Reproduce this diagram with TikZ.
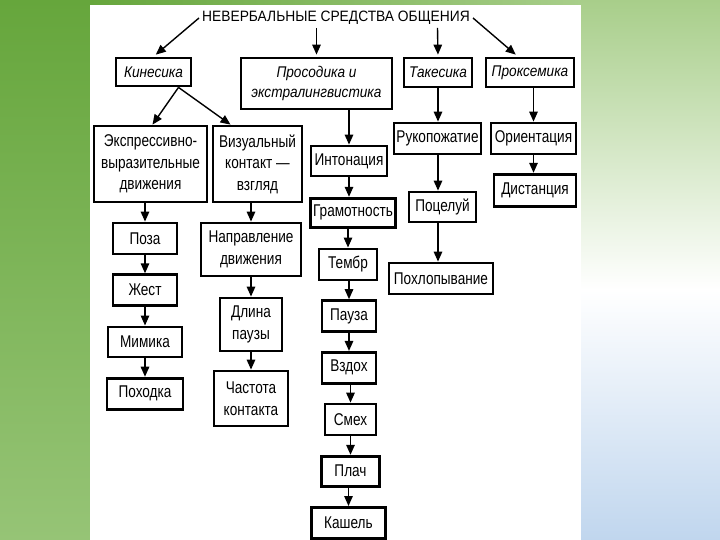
\documentclass[tikz,border=0pt]{standalone}
\usepackage{fontspec}
\setmainfont{Liberation Sans}[FakeStretch=0.8]
\newfontfamily\headfont{Liberation Sans}[FakeStretch=0.88]
\newfontfamily\titlefont{Liberation Sans}[FakeStretch=0.92]
\usetikzlibrary{arrows.meta}

\definecolor{leftTop}{RGB}{102,166,60}
\definecolor{leftBot}{RGB}{150,196,118}
\definecolor{rightTop}{RGB}{168,206,138}
\definecolor{rightBot}{RGB}{192,214,238}

\tikzset{
  box/.style={draw, line width=2.8pt, inner sep=2pt, align=center,
    font=\fontsize{17}{21.5}\selectfont},
  head/.style={box, font=\headfont\fontsize{15.5}{20}\selectfont\itshape},
  arr/.style={-{Triangle[length=10pt, width=8.5pt]}, line width=1.4pt}
}

\begin{document}
\begin{tikzpicture}[x=1pt, y=-1pt, node distance=51.7pt]
  \useasboundingbox (0,0) rectangle (720,540);
  % background
  \shade [top color=leftTop, bottom color=leftBot] (0,0) rectangle (90,540);
  \shade [left color=leftTop, right color=rightTop] (90,0) rectangle (581,5);
  \shade [top color=rightTop, bottom color=white] (581,0) rectangle (720,290);
  \shade [top color=white, bottom color=rightBot] (581,290) rectangle (720,540);
  \fill [white] (90,5) rectangle (581,540);

  \node (title) [inner sep=3pt, font=\titlefont\fontsize{15}{17}\selectfont] at (336,18) {НЕВЕРБАЛЬНЫЕ СРЕДСТВА ОБЩЕНИЯ};

  % first level
  \node (kin) [head, minimum width=75pt, minimum height=28pt] at (153.5,72) {Кинесика};
  \node (pros) [head, minimum width=151pt, minimum height=51pt] at (316.5,83.5) {Просодика и\\экстралингвистика};
  \node (tak) [head, minimum width=68pt, minimum height=29pt] at (438,72.5) {Такесика};
  \node (prox) [head, minimum width=88pt, minimum height=29pt] at (530,72.5) {Проксемика};

  % kinesics
  \node (expr) [box, minimum width=113pt, minimum height=76pt] at (150.5,164) {Экспрессивно-\\выразительные\\движения};
  \node (vis) [box, minimum width=89pt, minimum height=76pt] at (257.5,164) {Визуальный\\контакт ---\\взгляд};
  \node (poza) [box, minimum width=64pt, minimum height=31pt] at (145,238.5) {Поза};
  \node (zhest) [box, minimum width=64pt, minimum height=31pt, below of=poza] {Жест};
  \node (mimika) [box, minimum width=74pt, minimum height=30pt, below of=zhest] {Мимика};
  \node (pohodka) [box, minimum width=76pt, minimum height=31pt, below of=mimika] {Походка};
  \node (napr) [box, minimum width=100pt, minimum height=53pt] at (251,249.5) {Направление\\движения};
  \node (dlina) [box, node distance=75pt, minimum width=62pt, minimum height=53pt, below of=napr] {Длина\\паузы};
  \node (chast) [box, node distance=74pt, minimum width=74pt, minimum height=55pt, below of=dlina] {Частота\\контакта};

  % prosody
  \node (inton) [box, minimum width=76pt, minimum height=30pt] at (349,161) {Интонация};
  \node (gram) [box, minimum width=85pt, minimum height=29pt, below of=inton, xshift=4pt] {Грамотность};
  \node (tembr) [box, minimum width=58pt, minimum height=31pt, below of=gram, xshift=-5pt] {Тембр};
  \node (pauza) [box, minimum width=54pt, minimum height=31pt, below of=tembr, xshift=1pt] {Пауза};
  \node (vzdoh) [box, minimum width=54pt, minimum height=31pt, below of=pauza] {Вздох};
  \node (smeh) [box, minimum width=51pt, minimum height=31pt, below of=vzdoh, xshift=1.5pt] {Смех};
  \node (plach) [box, minimum width=58pt, minimum height=30pt, below of=smeh] {Плач};
  \node (kashel) [box, minimum width=74pt, minimum height=31pt, below of=plach, xshift=-2pt] {Кашель};

  % takesics and proxemics
  \node (ruk) [box, minimum width=87pt, minimum height=31pt] at (437.5,138.5) {Рукопожатие};
  \node (poc) [box, minimum width=67pt, minimum height=30pt] at (442.5,207) {Поцелуй};
  \node (pohlop) [box, minimum width=104pt, minimum height=31pt] at (441,278.5) {Похлопывание};
  \node (orient) [box, minimum width=85pt, minimum height=31pt] at (533.5,138.5) {Ориентация};
  \node (dist) [box, minimum width=82pt, minimum height=32pt, below of=orient, xshift=1.5pt] {Дистанция};

  % arrows from the title
  \draw [arr, shorten >=3pt] (title.west) -- (kin.north);
  \draw [arr, shorten >=2pt] (title.south -| pros.north) -- (pros.north);
  \draw [arr, shorten >=2pt] (title.south -| ruk.north) -- (tak.north);
  \draw [arr, shorten >=3pt] (title.east) -- ([xshift=-12pt]prox.north);

  \coordinate (kinfork) at ([xshift=25pt]kin.south);
  \draw [arr] (kinfork) -- ([xshift=2pt]expr.north);
  \draw [arr] (kinfork) -- ([xshift=-27pt]vis.north);

  \draw [arr] (pros.south -| inton.north) -- (inton.north);
  \draw [arr] (inton) -- (inton |- gram.north);
  \draw [arr] (gram.south -| tembr.north) -- (tembr);
  \foreach \a/\b in {tembr/pauza, pauza/vzdoh, vzdoh/smeh, smeh/plach, plach/kashel}
    \draw [arr] (\a.south -| \b.north) -- (\b);

  \draw [arr] (expr.south -| poza.north) -- (poza);
  \foreach \a/\b in {poza/zhest, zhest/mimika, mimika/pohodka}
    \draw [arr] (\a) -- (\b);
  \draw [arr] (vis.south -| napr.north) -- (napr);
  \draw [arr] (napr.south -| dlina.north) -- (dlina);
  \draw [arr] (dlina) -- (chast);

  \draw [arr] (tak) -- (tak |- ruk.north);
  \draw [arr] (ruk.south -| tak.south) -- (tak |- poc.north);
  \draw [arr] (poc.south -| tak.south) -- (tak |- pohlop.north);
  \draw [arr] (prox.south -| orient.north) -- (orient);
  \draw [arr] (orient.south -| orient.north) -- (orient.north |- dist.north);
\end{tikzpicture}
\end{document}
